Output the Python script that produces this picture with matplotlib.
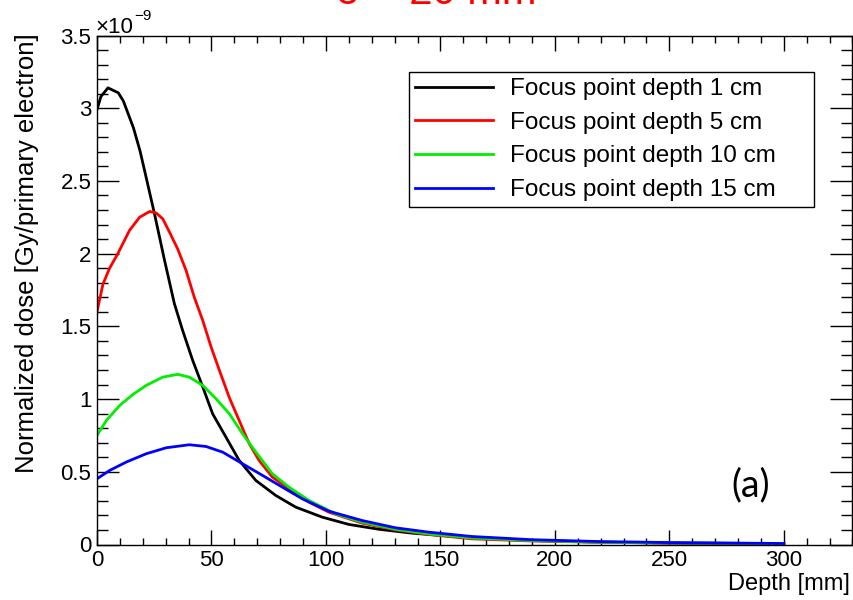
import matplotlib
matplotlib.use("Agg")
import matplotlib.pyplot as plt
from matplotlib.ticker import MultipleLocator, FuncFormatter

plt.rcParams['font.family'] = ['Liberation Sans', 'DejaVu Sans']

# Dose profiles along depth (mm), normalized dose in units of 1e-9 Gy/primary electron
depth_1cm = [0, 1.7, 4.8, 9.3, 11.5, 15.9, 18.8, 20.8, 25.1, 29.5, 33.8, 37.4, 41.8, 46.2,
             50.5, 56.3, 62.1, 69.4, 78.1, 86.8, 98.4, 110, 123, 137.6, 163.7, 190, 220,
             250, 280, 300]
dose_1cm = [2.99, 3.08, 3.14, 3.106, 3.05, 2.866, 2.706, 2.57, 2.275, 1.954, 1.656, 1.472,
            1.266, 1.083, 0.899, 0.739, 0.578, 0.44, 0.337, 0.257, 0.188, 0.138, 0.105,
            0.078, 0.046, 0.028, 0.016, 0.010, 0.007, 0.005]

depth_5cm = [0, 2.6, 5.5, 9.1, 14.2, 18.6, 23, 25.8, 28.7, 31.6, 35.3, 38.9, 42.5, 46.2,
             49.8, 53.4, 57.8, 62.1, 66.5, 70.8, 76.6, 83.9, 92.6, 101.3, 115.8, 130.3,
             144.8, 163.7, 190, 220, 250, 280, 300]
dose_5cm = [1.60, 1.79, 1.90, 2.0, 2.16, 2.25, 2.29, 2.28, 2.24, 2.15, 2.03, 1.885, 1.70,
            1.54, 1.36, 1.20, 1.01, 0.853, 0.693, 0.578, 0.463, 0.383, 0.291, 0.222, 0.147,
            0.101, 0.069, 0.039, 0.024, 0.015, 0.010, 0.008, 0.006]

depth_10cm = [0, 4.1, 9.9, 15.7, 21.5, 28.7, 35.3, 40.3, 46.2, 52, 57.8, 63.6, 69.4, 76.6,
              83.9, 92.6, 104.2, 115.8, 130.3, 144.8, 163.7, 190, 220, 250, 280, 300]
dose_10cm = [0.75, 0.853, 0.956, 1.032, 1.094, 1.151, 1.17, 1.151, 1.094, 1.002, 0.899,
             0.761, 0.635, 0.486, 0.394, 0.303, 0.211, 0.154, 0.105, 0.073, 0.045, 0.027,
             0.016, 0.011, 0.008, 0.006]

depth_15cm = [0, 5.5, 12.8, 21.5, 30.2, 40.3, 47.6, 54.9, 63.6, 72.3, 81, 89.7, 101.3,
              115.8, 130.3, 144.8, 163.7, 190, 220, 235, 250, 284, 300]
dose_15cm = [0.452, 0.509, 0.567, 0.624, 0.665, 0.686, 0.674, 0.635, 0.555, 0.475, 0.394,
             0.314, 0.229, 0.165, 0.115, 0.085, 0.055, 0.033, 0.020, 0.017, 0.013, 0.009,
             0.007]

labels = ["Focus point depth 1 cm", "Focus point depth 5 cm",
          "Focus point depth 10 cm", "Focus point depth 15 cm"]
colors = ["#000000", "#ff0000", "#00ee00", "#0000ff"]

W, H = 854, 600
fig = plt.figure(figsize=(W / 100, H / 100), dpi=100)


def fx(px):
    return px / W


def fy(py):
    return 1 - py / H


ax = fig.add_axes([fx(97), fy(544.5), fx(852.5) - fx(97), fy(35.5) - fy(544.5)])

series = [(depth_1cm, dose_1cm), (depth_5cm, dose_5cm),
          (depth_10cm, dose_10cm), (depth_15cm, dose_15cm)]
for (d, v), lab, c in zip(series, labels, colors):
    ax.plot(d, v, color=c, lw=2.0, label=lab)

ax.set_xlim(0, 330)
ax.set_ylim(0, 3.5)
ax.xaxis.set_major_locator(MultipleLocator(50))
ax.xaxis.set_minor_locator(MultipleLocator(10))
ax.yaxis.set_major_locator(MultipleLocator(0.5))
ax.yaxis.set_minor_locator(MultipleLocator(0.1))
ax.yaxis.set_major_formatter(FuncFormatter(lambda v, p: f"{v:g}"))
ax.tick_params(which='both', direction='in', top=True, right=True, width=1.0,
               labelsize=16, colors='black')
ax.tick_params(axis='x', which='major', length=10.5, pad=4)
ax.tick_params(axis='x', which='minor', length=5)
ax.tick_params(axis='y', which='major', length=15.5, pad=4)
ax.tick_params(axis='y', which='minor', length=8)
for s in ax.spines.values():
    s.set_linewidth(1.0)

fig.text(fx(850), fy(584), "Depth [mm]", ha='right', va='center', fontsize=17)
fig.text(fx(27), fy(33), "Normalized dose [Gy/primary electron]", rotation=90,
         ha='center', va='top', fontsize=18.5)

# exponent marker above the y axis
fig.text(fx(95), fy(33), "\u00d710", ha='left', va='baseline', fontsize=16)
fig.text(fx(134), fy(20), "\u22129", ha='left', va='baseline', fontsize=11)

leg = ax.legend(loc='upper left', mode='expand',
                bbox_to_anchor=(fx(409), fy(206), fx(814) - fx(409), fy(72) - fy(206)),
                bbox_transform=fig.transFigure, fontsize=17.5, frameon=True,
                fancybox=False, edgecolor='black', framealpha=1, handlelength=3.2,
                handletextpad=0.7, labelspacing=0.48, borderpad=0.25, borderaxespad=0)
leg.get_frame().set_linewidth(1.0)

fig.text(fx(751), fy(485), "(a)", ha='center', va='center', fontsize=27,
         family=['Lato', 'DejaVu Sans'])

fig.text(fx(436), fy(4.5), "\u03c3 = 20 mm", ha='center', va='baseline', fontsize=30,
         color='#ff0000')

fig.savefig("out.png", dpi=100)
